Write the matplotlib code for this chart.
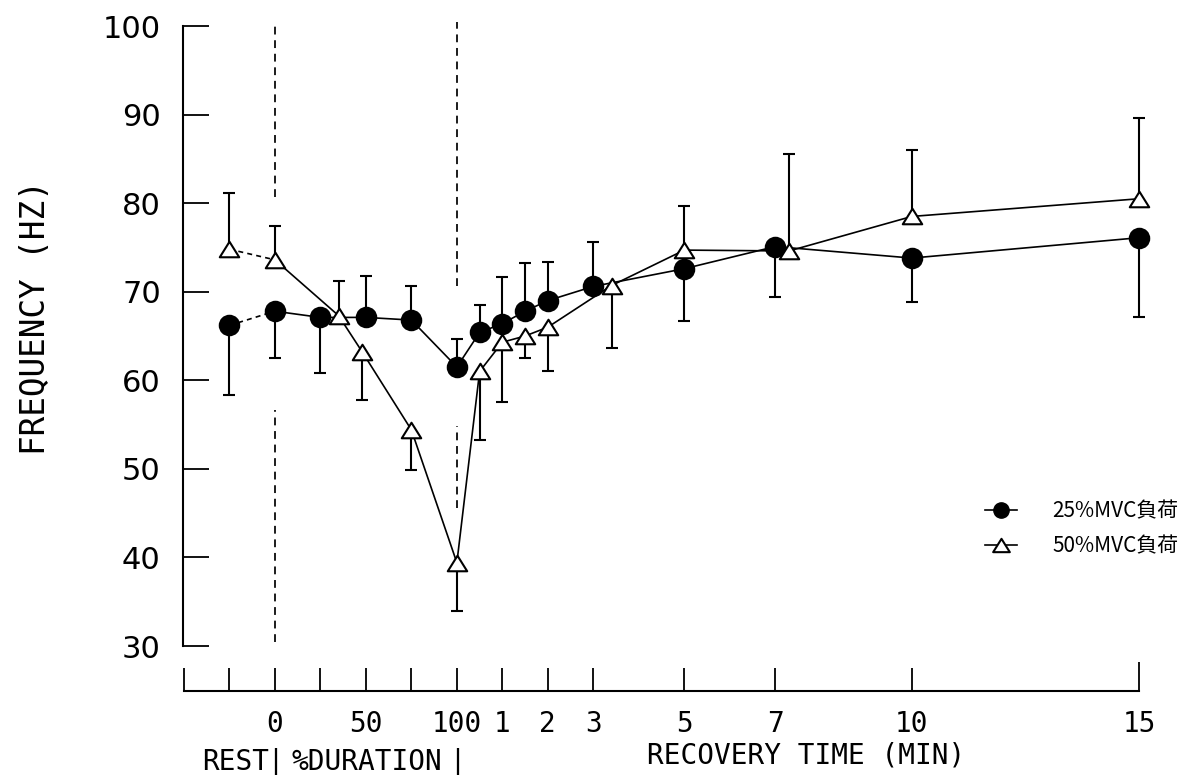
import numpy as np
import matplotlib
matplotlib.use('Agg')
import matplotlib.pyplot as plt
from matplotlib import font_manager
from matplotlib.lines import Line2D
from matplotlib.path import Path

installed = {f.name for f in font_manager.fontManager.ttflist}
MONO = 'DejaVu Sans Mono'
NARROW = 'Liberation Sans Narrow' if 'Liberation Sans Narrow' in installed else MONO
CJK = ['Noto Sans CJK JP', 'DejaVu Sans']

# 25%MVC load: rest value first, then % of task duration, then recovery minutes
mvc25_duration = [0, 25, 50, 75, 100]
mvc25_recovery = [0.5, 1, 1.5, 2, 3, 5, 7, 10, 15]
mvc25_mean = [66.2, 67.8, 67.1, 67.1, 66.8, 61.5, 65.4, 66.4, 67.8, 69.0, 70.6, 72.6, 75.1, 73.8, 76.1]
mvc25_sd = [7.9, 5.3, 6.3, 4.7, 3.8, 3.2, 3.1, 5.3, 5.4, 4.4, 5.0, 5.9, 5.7, 5.0, 9.0]
mvc25_side = [-1, -1, -1, 1, 1, 1, 1, 1, 1, 1, 1, -1, -1, -1, -1]

# 50%MVC load
mvc50_duration = [0, 35, 48, 75, 100]
mvc50_recovery = [0.5, 1, 1.5, 2, 3.4, 5, 7.3, 10, 15]
mvc50_mean = [74.8, 73.6, 67.3, 63.2, 54.4, 39.4, 61.0, 64.3, 65.0, 66.0, 70.7, 74.7, 74.6, 78.5, 80.5]
mvc50_sd = [6.3, 3.8, 3.9, 5.4, 4.5, 5.5, 7.7, 6.7, 2.5, 5.0, 7.0, 5.0, 11.0, 7.5, 9.1]
mvc50_side = [1, 1, 1, -1, -1, -1, -1, -1, -1, -1, -1, 1, 1, 1, 1]

# x axis ticks
duration_ticks = [0, 25, 50, 75, 100]
duration_labels = ['0', '', '50', '', '100']
recovery_ticks = [1, 2, 3, 5, 7, 10, 15]
recovery_labels = ['1', '2', '3', '5', '7', '10', '15']

# dashed lines at start / end of the task (y ranges, gaps around the data)
phase_lines = {0: [(80.7, 100.5), (30.5, 56.6)],
               100: [(70.7, 100.5), (45.6, 54.8)]}

legend_labels = ['25%MVC負荷', '50%MVC負荷']


# one axis unit = one tick: rest at -1, 25% duration per tick, 1 min per tick
def dur_x(d):
    return np.asarray(d, dtype=float) / 25

def rec_x(m):
    return 4 + np.asarray(m, dtype=float)

def series_x(duration, recovery):
    return np.concatenate([[-1.0], dur_x(duration), rec_x(recovery)])


tri = Path([(-1, -0.8), (1, -0.8), (0, 0.8), (0, 0)],
           [Path.MOVETO, Path.LINETO, Path.LINETO, Path.CLOSEPOLY])


def draw(ax, x, mean, sd, side, marker, face, z):
    mean = np.asarray(mean)
    tip = mean + np.asarray(sd) * np.asarray(side)
    ax.vlines(x, mean, tip, color='k', lw=1.5, zorder=z)
    ax.plot(x, tip, ls='none', marker='_', ms=8, mew=1.5, color='k', zorder=z)
    ax.plot(x[:2], mean[:2], color='k', lw=1.2, ls=(0, (3, 2.5)), zorder=z)
    ax.plot(x[1:], mean[1:], color='k', lw=1.2, zorder=z)
    ax.plot(x, mean, ls='none', marker=marker, ms=14, mfc=face, mec='k',
            mew=1.5, zorder=z + 0.5)


fig = plt.figure(figsize=(11.87, 7.78), dpi=100)
ax = fig.add_axes([0.15417, 0.11183, 0.8248, 0.86247])

draw(ax, series_x(mvc25_duration, mvc25_recovery), mvc25_mean, mvc25_sd,
     mvc25_side, 'o', 'k', 3)
draw(ax, series_x(mvc50_duration, mvc50_recovery), mvc50_mean, mvc50_sd,
     mvc50_side, tri, 'w', 4)

for d, segs in phase_lines.items():
    for lo, hi in segs:
        ax.vlines(dur_x(d), lo, hi, color='k', lw=1.25, ls=(0, (4.5, 3.3)), zorder=2)

ax.set_xlim(-2.02, 19.5)
ax.set_ylim(24.92, 100.68)

for s in ['top', 'right']:
    ax.spines[s].set_visible(False)
ax.spines['left'].set_bounds(30, 100)
ax.spines['bottom'].set_bounds(-2, 19)
ax.spines['left'].set_linewidth(1.5)
ax.spines['bottom'].set_linewidth(1.5)

ax.set_yticks(range(30, 101, 10))
ax.tick_params(axis='y', direction='in', length=19, width=1.3, pad=16,
               labelsize=22)
for lab in ax.get_yticklabels():
    lab.set_fontfamily('DejaVu Sans')

xt = [-2, -1] + list(dur_x(duration_ticks)) + list(rec_x(recovery_ticks))
xl = ['', ''] + duration_labels + recovery_labels
ax.set_xticks(xt, xl, fontfamily=NARROW, fontsize=24 if NARROW != MONO else 20)
ax.tick_params(axis='x', direction='in', length=16.5, width=1.3, pad=14)
ax.xaxis.get_major_ticks()[-1].tick1line.set_markersize(21)

ax.set_ylabel('FREQUENCY (HZ)', fontfamily=MONO, fontsize=23.5, va='center')
ax.yaxis.set_label_coords(-0.151, 0.557)

xa = ax.get_xaxis_transform()
bottom_font = dict(fontfamily=MONO, fontsize=20, va='baseline', ha='center',
                   transform=xa, clip_on=False)
ax.text(-0.87, -0.117, 'REST', **bottom_font)
ax.text(dur_x(0), -0.115, '|', **{**bottom_font, 'fontsize': 19})
ax.text(2.03, -0.117, '%DURATION', **bottom_font)
ax.text(dur_x(100), -0.115, '|', **{**bottom_font, 'fontsize': 19})
ax.text(11.68, -0.108, 'RECOVERY TIME (MIN)', **bottom_font)

handles = [Line2D([], [], color='k', lw=1.2, marker='o', ms=11, mfc='k'),
           Line2D([], [], color='k', lw=1.2, marker=tri, ms=12, mfc='w', mew=1.5)]
fig.legend(handles, legend_labels, loc='center left', bbox_to_anchor=(0.8298, 0.32),
           frameon=False, prop={'family': CJK, 'size': 15}, handlelength=1.55,
           handletextpad=1.7, labelspacing=0.62, borderpad=0, borderaxespad=0)

fig.savefig('out.png', dpi=100)
